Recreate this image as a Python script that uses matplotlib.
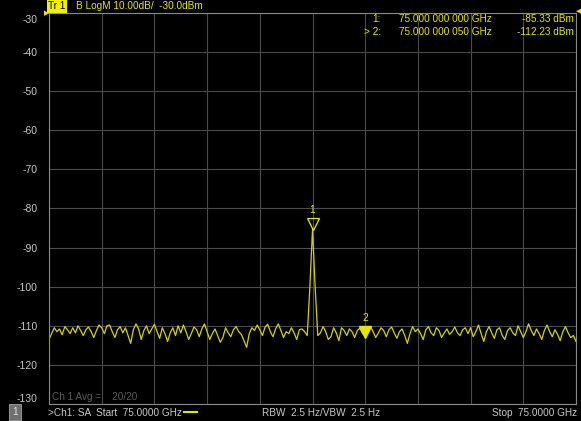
import numpy as np
import matplotlib.pyplot as plt
from matplotlib.transforms import ScaledTranslation

plt.rcParams['font.family'] = ['Liberation Sans', 'DejaVu Sans']

W, H = 581, 421

# offset from 75 GHz centre, Hz (span 500 Hz, 2.5 Hz step)
freq_offset = np.linspace(-250, 250, 201)

# trace values in dBm, one division (20 points) per row
level_dbm = [
    -113.5, -112.0, -110.5, -111.5, -110.8, -112.3, -110.2, -111.0, -112.0, -110.5,
    -111.8, -110.0, -111.2, -112.5, -111.0, -110.3, -111.5, -113.0, -111.2, -109.8,
    -110.5, -112.0, -110.0, -109.8, -111.5, -113.0, -111.0, -110.2, -111.8, -110.5,
    -112.5, -114.5, -111.0, -109.5, -110.8, -113.5, -111.2, -110.0, -112.0, -110.8,
    -109.6, -111.5, -113.2, -110.5, -112.0, -114.0, -111.8, -110.5, -112.5, -110.0,
    -111.8, -109.8, -111.5, -113.5, -112.0, -110.3, -111.0, -112.8, -110.8, -109.5,
    -111.5, -113.5, -112.0, -110.8, -112.5, -114.2, -113.0, -110.5, -111.8, -112.8,
    -111.0, -110.2, -111.5, -112.2, -113.8, -115.5, -112.0, -110.5, -111.2, -109.8,
    -111.0, -112.5, -110.3, -109.6, -111.5, -112.8, -110.8, -109.5, -111.2, -113.0,
    -111.5, -112.0, -110.5, -111.8, -113.5, -111.0, -110.8, -111.5, -112.5, -100.0,
    -85.33, -100.0, -112.5, -111.8, -110.2, -111.5, -113.5, -112.8, -110.5, -111.8,
    -113.8, -110.5, -111.2, -112.5, -110.8, -111.5, -113.0, -111.2, -110.6, -112.0,
    -112.23, -111.0, -110.2, -111.5, -113.0, -111.8, -110.5, -111.2, -112.8, -111.0,
    -110.3, -111.8, -113.2, -111.5, -110.8, -112.5, -114.5, -112.0, -110.2, -111.5,
    -110.8, -112.0, -113.5, -111.0, -110.2, -111.8, -112.5, -110.5, -111.2, -113.0,
    -111.8, -110.8, -112.2, -111.5, -110.3, -111.8, -112.5, -111.0, -110.5, -112.0,
    -110.5, -112.8, -111.5, -109.8, -112.0, -114.0, -111.5, -110.2, -111.8, -113.2,
    -111.0, -110.5, -112.5, -113.5, -111.2, -110.5, -111.8, -112.5, -110.0, -111.5,
    -113.0, -111.5, -109.5, -111.2, -112.5, -110.8, -112.0, -113.5, -111.2, -109.8,
    -111.5, -112.8, -111.0, -112.2, -113.8, -111.5, -110.2, -111.8, -113.0, -112.5,
    -114.0,
]

marker_idx = [100, 120]
marker_names = ["1", "2"]
marker_freq_txt = ["75.000 000 000 GHz", "75.000 000 050 GHz"]
marker_val_txt = ["-85.33 dBm", "-112.23 dBm"]

y_ticks = [-30, -40, -50, -60, -70, -80, -90, -100, -110, -120, -130]

YEL = "#e6e600"
TRACE = "#d2d200"
TXT = "#c8c8c8"
FS = 7.2


def fx(x):
    return x / W


def fy(y):
    return 1 - y / H


fig = plt.figure(figsize=(W / 100, H / 100), dpi=100, facecolor="black")
ax = fig.add_axes([fx(49), fy(404), (576 - 49) / W, (404 - 13) / H])
ax.set_facecolor("black")

ax.plot(freq_offset, level_dbm, color=TRACE, lw=0.9)

ax.set_xlim(-250, 250)
ax.set_ylim(-130, -30)
ax.set_xticks(np.linspace(-250, 250, 11))
ax.set_xticklabels([])
ax.set_yticks(y_ticks)
ax.set_yticklabels([str(v) for v in y_ticks])
ax.tick_params(length=0, colors=TXT, labelsize=7.5, pad=8)
ax.grid(True, color="#4a4a4a", lw=0.8)
for s in ax.spines.values():
    s.set_color("#8a8a8a")
    s.set_linewidth(0.8)

# nudge end labels inside like the analyzer does
labels = ax.get_yticklabels()
labels[0].set_transform(labels[0].get_transform() + ScaledTranslation(0, -6 / 100, fig.dpi_scale_trans))
labels[-1].set_transform(labels[-1].get_transform() + ScaledTranslation(0, 6 / 100, fig.dpi_scale_trans))

# markers
f1, v1 = freq_offset[marker_idx[0]], level_dbm[marker_idx[0]]
ax.plot(f1, v1, marker="v", ms=9, mfc="none", mec=YEL, mew=0.9,
        transform=ax.transData + ScaledTranslation(0, 5 / 100, fig.dpi_scale_trans))
ax.annotate(marker_names[0], (f1, v1), xytext=(0, 10), textcoords="offset points",
            ha="center", va="bottom", color=YEL, fontsize=FS)
f2, v2 = freq_offset[marker_idx[1]], level_dbm[marker_idx[1]]
ax.plot(f2, v2, marker="v", ms=8, color=YEL,
        transform=ax.transData + ScaledTranslation(0, 3 / 100, fig.dpi_scale_trans))
ax.annotate(marker_names[1], (f2, v2), xytext=(0, 8), textcoords="offset points",
            ha="center", va="bottom", color=YEL, fontsize=FS)

# header
fig.text(fx(48), fy(6), "Tr 1", color="black", fontsize=FS, va="center",
         bbox=dict(boxstyle="square,pad=0.15", fc="#f0f000", ec="none"))
fig.text(fx(76), fy(6), "B LogM 10.00dB/  -30.0dBm", color=YEL, fontsize=FS, va="center")
fig.text(fx(44), fy(14), "\u25B6", color=YEL, fontsize=5, va="center")
fig.text(fx(581), fy(12), "\u25C0", color=YEL, fontsize=5, va="center", ha="right")

rows = [19, 32]
for i in range(2):
    pre = "1:" if i == 0 else "> 2:"
    fig.text(fx(381), fy(rows[i]), pre, color=YEL, fontsize=FS, va="center", ha="right")
    fig.text(fx(399), fy(rows[i]), marker_freq_txt[i], color=YEL, fontsize=FS, va="center")
    fig.text(fx(574), fy(rows[i]), marker_val_txt[i], color=YEL, fontsize=FS, va="center", ha="right")

fig.text(fx(52), fy(397), "Ch 1 Avg =    20/20", color="#5a5a5a", fontsize=FS, va="center")

# footer
fig.text(fx(12), fy(412), "1", color="#e0e0e0", fontsize=FS, va="center",
         bbox=dict(boxstyle="square,pad=0.3", fc="#707070", ec="#a0a0a0", lw=0.6))
fig.text(fx(48), fy(413), ">Ch1: SA  Start  75.0000 GHz", color=TXT, fontsize=FS, va="center")
fig.add_artist(plt.Line2D([fx(184), fx(197)], [fy(412), fy(412)], color=YEL, lw=1.5))
fig.text(fx(262), fy(413), "RBW  2.5 Hz/VBW  2.5 Hz", color=TXT, fontsize=FS, va="center")
fig.text(fx(577), fy(413), "Stop  75.0000 GHz", color=TXT, fontsize=FS, va="center", ha="right")

fig.savefig("out.png", dpi=100, facecolor="black")
